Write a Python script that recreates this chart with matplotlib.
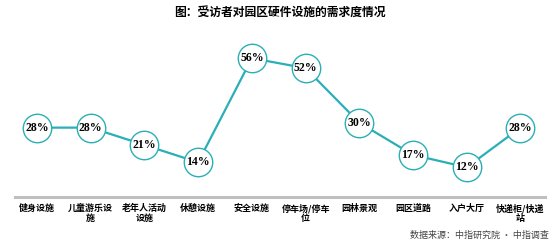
import matplotlib.pyplot as plt

plt.rcParams['font.family'] = ['Noto Sans CJK SC', 'DejaVu Sans']

categories = ['健身设施', '儿童游乐设\n施', '老年人活动\n设施', '休憩设施', '安全设施',
              '停车场/停车\n位', '园林景观', '园区道路', '入户大厅', '快递柜/快递\n站']
values = [28, 28, 21, 14, 56, 52, 30, 17, 12, 28]

teal = '#2BAFB7'

fig = plt.figure(figsize=(5.54, 2.46), dpi=100)
ax = fig.add_axes([0.027, 0.199, 0.957, 0.655])

x = list(range(len(categories)))
ax.plot(x, values, color=teal, linewidth=1.6, zorder=2)
ax.scatter(x, values, s=20.5 ** 2, facecolor='white', edgecolor=teal, linewidth=1.0, zorder=3)
for xi, v in zip(x, values):
    ax.text(xi, v, f'{v}%', ha='center', va='center', fontsize=8.5, fontweight='bold',
            family='Liberation Serif', color='black', zorder=4)

ax.set_xlim(-0.41, 9.46)
ax.set_ylim(0, 65)
ax.set_yticks([])
ax.set_xticks(x)
ax.set_xticklabels(categories, fontsize=6.5, fontweight='bold', linespacing=1.1)
ax.tick_params(axis='x', length=0, pad=5)
for s in ['top', 'right', 'left']:
    ax.spines[s].set_visible(False)
ax.spines['bottom'].set_color('#BFBFBF')
ax.spines['bottom'].set_linewidth(2.2)

fig.text(0.505, 0.95, '图：受访者对园区硬件设施的需求度情况', ha='center', va='center',
         fontsize=8.5, fontweight='bold')
fig.text(0.99, 0.045, '数据来源：中指研究院 · 中指调查', ha='right', va='center',
         fontsize=6.5, color='#444444', style='italic')

fig.savefig('out.png', dpi=100)
